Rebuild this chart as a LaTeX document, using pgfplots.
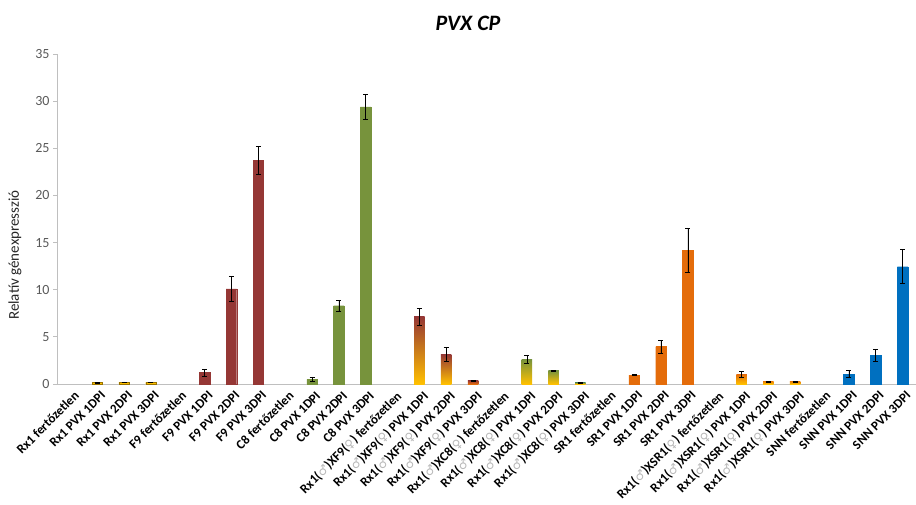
\documentclass[border=0pt]{standalone}
\usepackage{pgfplots}
\pgfplotsset{compat=1.18}
\usepackage{fontspec}
\setmainfont{Carlito}
\newfontfamily\symf{DejaVu Sans}
\definecolor{cred}{HTML}{953735}
\definecolor{cgreen}{HTML}{77933C}
\definecolor{corange}{HTML}{E46C0A}
\definecolor{cblue}{HTML}{0070C0}
\definecolor{cyellow}{HTML}{FFC000}
\definecolor{axgray}{HTML}{BFBFBF}
\definecolor{txtgray}{HTML}{595959}
\newcommand{\ma}{{\symf\color{gray!55}\fontsize{12pt}{12pt}\selectfont ♂}}
\newcommand{\fe}{{\symf\color{gray!55}\fontsize{12pt}{12pt}\selectfont ♀}}
\begin{document}
\begin{tikzpicture}
\begin{axis}[
  at={(57pt,120pt)}, anchor=south west,
  scale only axis, width=859pt, height=330pt,
  xmin=0.5, xmax=32.5, ymin=0, ymax=35,
  axis x line*=bottom, axis y line*=left,
  axis line style={axgray, line width=0.8pt},
  ytick={0,5,...,35},
  yticklabel style={font=\fontsize{14pt}{14pt}\selectfont, text=txtgray},
  /pgf/number format/assume math mode=true,
  y tick style={axgray, line width=0.8pt},
  major tick length=4pt,
  tick align=outside,
  xtick={1,...,32},
  x tick style={draw=none},
  minor xtick={0.5,1.5,...,32.5},
  minor x tick style={axgray, line width=0.8pt},
  minor tick length=5pt,
  xticklabel style={rotate=45, anchor=north east, font=\bfseries\fontsize{13pt}{13pt}\selectfont, inner sep=0.5pt, xshift=1pt, yshift=-3pt},
  xticklabels={
    Rx1 fertőzetlen, Rx1 PVX 1DPI, Rx1 PVX 2DPI, Rx1 PVX 3DPI,
    F9 fertőzetlen, F9 PVX 1DPI, F9 PVX 2DPI, F9 PVX 3DPI,
    C8 fertőzetlen, C8 PVX 1DPI, C8 PVX 2DPI, C8 PVX 3DPI,
    {Rx1(\ma)XF9(\fe) fertőzetlen}, {Rx1(\ma)XF9(\fe) PVX 1DPI}, {Rx1(\ma)XF9(\fe) PVX 2DPI}, {Rx1(\ma)XF9(\fe) PVX 3DPI},
    {Rx1(\ma)XC8(\fe) fertőzetlen}, {Rx1(\ma)XC8(\fe) PVX 1DPI}, {Rx1(\ma)XC8(\fe) PVX 2DPI}, {Rx1(\ma)XC8(\fe) PVX 3DPI},
    SR1 fertőzetlen, SR1 PVX 1DPI, SR1 PVX 2DPI, SR1 PVX 3DPI,
    {Rx1(\ma)XSR1(\fe) fertőzetlen}, {Rx1(\ma)XSR1(\fe) PVX 1DPI}, {Rx1(\ma)XSR1(\fe) PVX 2DPI}, {Rx1(\ma)XSR1(\fe) PVX 3DPI},
    SNN fertőzetlen, SNN PVX 1DPI, SNN PVX 2DPI, SNN PVX 3DPI},
  ybar, bar width=10.5pt, bar shift=0pt,
  error bars/y dir=both, error bars/y explicit,
  error bars/error bar style={black, line width=0.5pt},
  error bars/error mark options={black, rotate=90, mark size=2.5pt, line width=0.5pt},
  clip=false,
]
% Rx1
\addplot[fill=cyellow, draw=cyellow!60!black, line width=0.3pt] coordinates {(2,0.15) +- (0,0.02) (3,0.2) +- (0,0.03) (4,0.18) +- (0,0.02)};
% F9
\addplot[fill=cred, draw=cred] coordinates {(6,1.2) +- (0,0.35) (7,10.1) +- (0,1.35) (8,23.7) +- (0,1.5)};
% C8
\addplot[fill=cgreen, draw=cgreen] coordinates {(10,0.5) +- (0,0.25) (11,8.3) +- (0,0.6) (12,29.4) +- (0,1.35)};
% Rx1xF9
\addplot[draw=none, top color=cred, bottom color=cyellow] coordinates {(14,7.14) +- (0,0.9)};
\addplot[draw=none, top color=cred, bottom color=cyellow] coordinates {(15,3.15) +- (0,0.7)};
\addplot[draw=none, top color=cred, bottom color=corange] coordinates {(16,0.38) +- (0,0.04)};
% Rx1xC8
\addplot[draw=none, top color=cgreen, bottom color=cyellow] coordinates {(18,2.62) +- (0,0.45)};
\addplot[draw=none, top color=cgreen, bottom color=cyellow] coordinates {(19,1.41) +- (0,0.05)};
\addplot[draw=none, top color=cgreen, bottom color=cyellow] coordinates {(20,0.15) +- (0,0.02)};
% SR1
\addplot[fill=corange, draw=corange] coordinates {(22,0.95) +- (0,0.05) (23,3.96) +- (0,0.7) (24,14.2) +- (0,2.35)};
% Rx1xSR1
\addplot[draw=none, top color=corange, bottom color=cyellow] coordinates {(26,1.03) +- (0,0.27)};
\addplot[draw=none, top color=corange!70!cyellow, bottom color=cyellow] coordinates {(27,0.25) +- (0,0.04)};
\addplot[draw=none, top color=corange!70!cyellow, bottom color=cyellow] coordinates {(28,0.25) +- (0,0.04)};
% SNN
\addplot[fill=cblue, draw=cblue] coordinates {(30,1.06) +- (0,0.35) (31,3.07) +- (0,0.64) (32,12.44) +- (0,1.8)};
\end{axis}
\node[font=\bfseries\itshape\fontsize{22pt}{22pt}\selectfont] at (468pt,481pt) {PVX CP};
\node[rotate=90, font=\fontsize{15pt}{15pt}\selectfont, text=black!85] at (15pt,249pt) {Relatív génexpresszió};
\pgfresetboundingbox
\useasboundingbox (0,0) rectangle (916pt,504pt);
\end{tikzpicture}
\end{document}
